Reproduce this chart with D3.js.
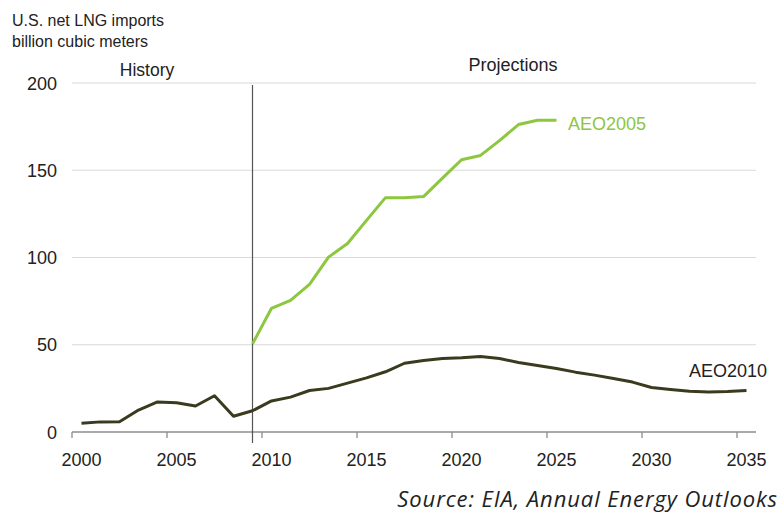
<!DOCTYPE html>
<html><head><meta charset="utf-8">
<script src="https://cdn.jsdelivr.net/npm/d3@7"></script>
<style>body{margin:0;background:#fff}svg{display:block}text{font-family:"Liberation Sans",Arial,sans-serif}</style>
</head><body><svg id="c" width="783" height="512"></svg>
<script>
const yearsHist = [2000,2001,2002,2003,2004,2005,2006,2007,2008,2009,2010,2011,2012,2013,2014,2015,2016,2017,2018,2019,2020,2021,2022,2023,2024,2025,2026,2027,2028,2029,2030,2031,2032,2033,2034,2035];
const aeo2010 = [5,5.8,5.9,12.6,17.2,16.8,14.9,20.8,9,12.2,17.8,20,23.8,25,28,31,34.5,39.4,41,42.1,42.5,43.2,42.1,39.8,38.1,36.4,34.3,32.6,30.7,28.6,25.5,24.4,23.4,22.9,23.2,23.8];
const years2005 = [2009,2010,2011,2012,2013,2014,2015,2016,2017,2018,2019,2020,2021,2022,2023,2024,2025];
const aeo2005 = [50.5,70.9,75.4,84.6,100.2,108,121.3,134.3,134.3,134.9,145.5,156,158.5,167,176.2,178.7,178.7];
const yTicks = [0,50,100,150,200];
const xTicks = [2000,2005,2010,2015,2020,2025,2030,2035];

const svg = d3.select("#c");
const x = d3.scaleLinear().domain([1999.5,2035.5]).range([72,756]);
const y = d3.scaleLinear().domain([0,200]).range([432,83]);

// gridlines
svg.append("g").selectAll("line").data(yTicks.filter(d=>d>0)).join("line")
  .attr("x1",72).attr("x2",756).attr("y1",d=>y(d)).attr("y2",d=>y(d))
  .attr("stroke","#d9d9d9").attr("stroke-width",1);
// y labels
svg.append("g").selectAll("text").data(yTicks).join("text")
  .attr("x",57).attr("y",d=>y(d)+6.5).attr("text-anchor","end")
  .attr("font-size",18).attr("fill","#222").text(d=>d);
// x axis line
svg.append("line").attr("x1",72).attr("x2",756).attr("y1",y(0)).attr("y2",y(0))
  .attr("stroke","#8c8c8c").attr("stroke-width",1.3);
svg.append("g").selectAll("line").data(xTicks).join("line")
  .attr("x1",d=>x(d-0.5)).attr("x2",d=>x(d-0.5)).attr("y1",y(0)).attr("y2",y(0)+6)
  .attr("stroke","#8c8c8c").attr("stroke-width",1.3);
svg.append("g").selectAll("text").data(xTicks).join("text")
  .attr("x",d=>x(d)).attr("y",466).attr("text-anchor","middle")
  .attr("font-size",18).attr("fill","#222").text(d=>d);

// divider
svg.append("line").attr("x1",x(2009)).attr("x2",x(2009)).attr("y1",85).attr("y2",443)
  .attr("stroke","#555").attr("stroke-width",1.2);

const line = d3.line().x(d=>x(d[0])).y(d=>y(d[1]));
svg.append("path").datum(years2005.map((d,i)=>[d,aeo2005[i]])).attr("d",line)
  .attr("fill","none").attr("stroke","#8dc63f").attr("stroke-width",3).attr("stroke-linejoin","round");
svg.append("path").datum(yearsHist.map((d,i)=>[d,aeo2010[i]])).attr("d",line)
  .attr("fill","none").attr("stroke","#3a3a1e").attr("stroke-width",3).attr("stroke-linejoin","round");

// texts
svg.append("text").attr("x",12).attr("y",26).attr("font-size",16).attr("fill","#222").text("U.S. net LNG imports");
svg.append("text").attr("x",12).attr("y",47).attr("font-size",16).attr("fill","#222").text("billion cubic meters");
svg.append("text").attr("x",147).attr("y",76).attr("text-anchor","middle").attr("font-size",17.5).attr("fill","#222").text("History");
svg.append("text").attr("x",513).attr("y",71).attr("text-anchor","middle").attr("font-size",18).attr("fill","#222").text("Projections");
svg.append("text").attr("x",568).attr("y",130).attr("font-size",18).attr("fill","#8dc63f").text("AEO2005");
svg.append("text").attr("x",689).attr("y",377).attr("font-size",18).attr("fill","#222").text("AEO2010");
svg.append("text").attr("x",778).attr("y",507).attr("text-anchor","end").attr("font-size",22)
  .attr("font-style","italic").attr("letter-spacing",0.9).attr("fill","#222").style("font-family","'Open Sans',sans-serif").text("Source: EIA, Annual Energy Outlooks");
</script></body></html>
